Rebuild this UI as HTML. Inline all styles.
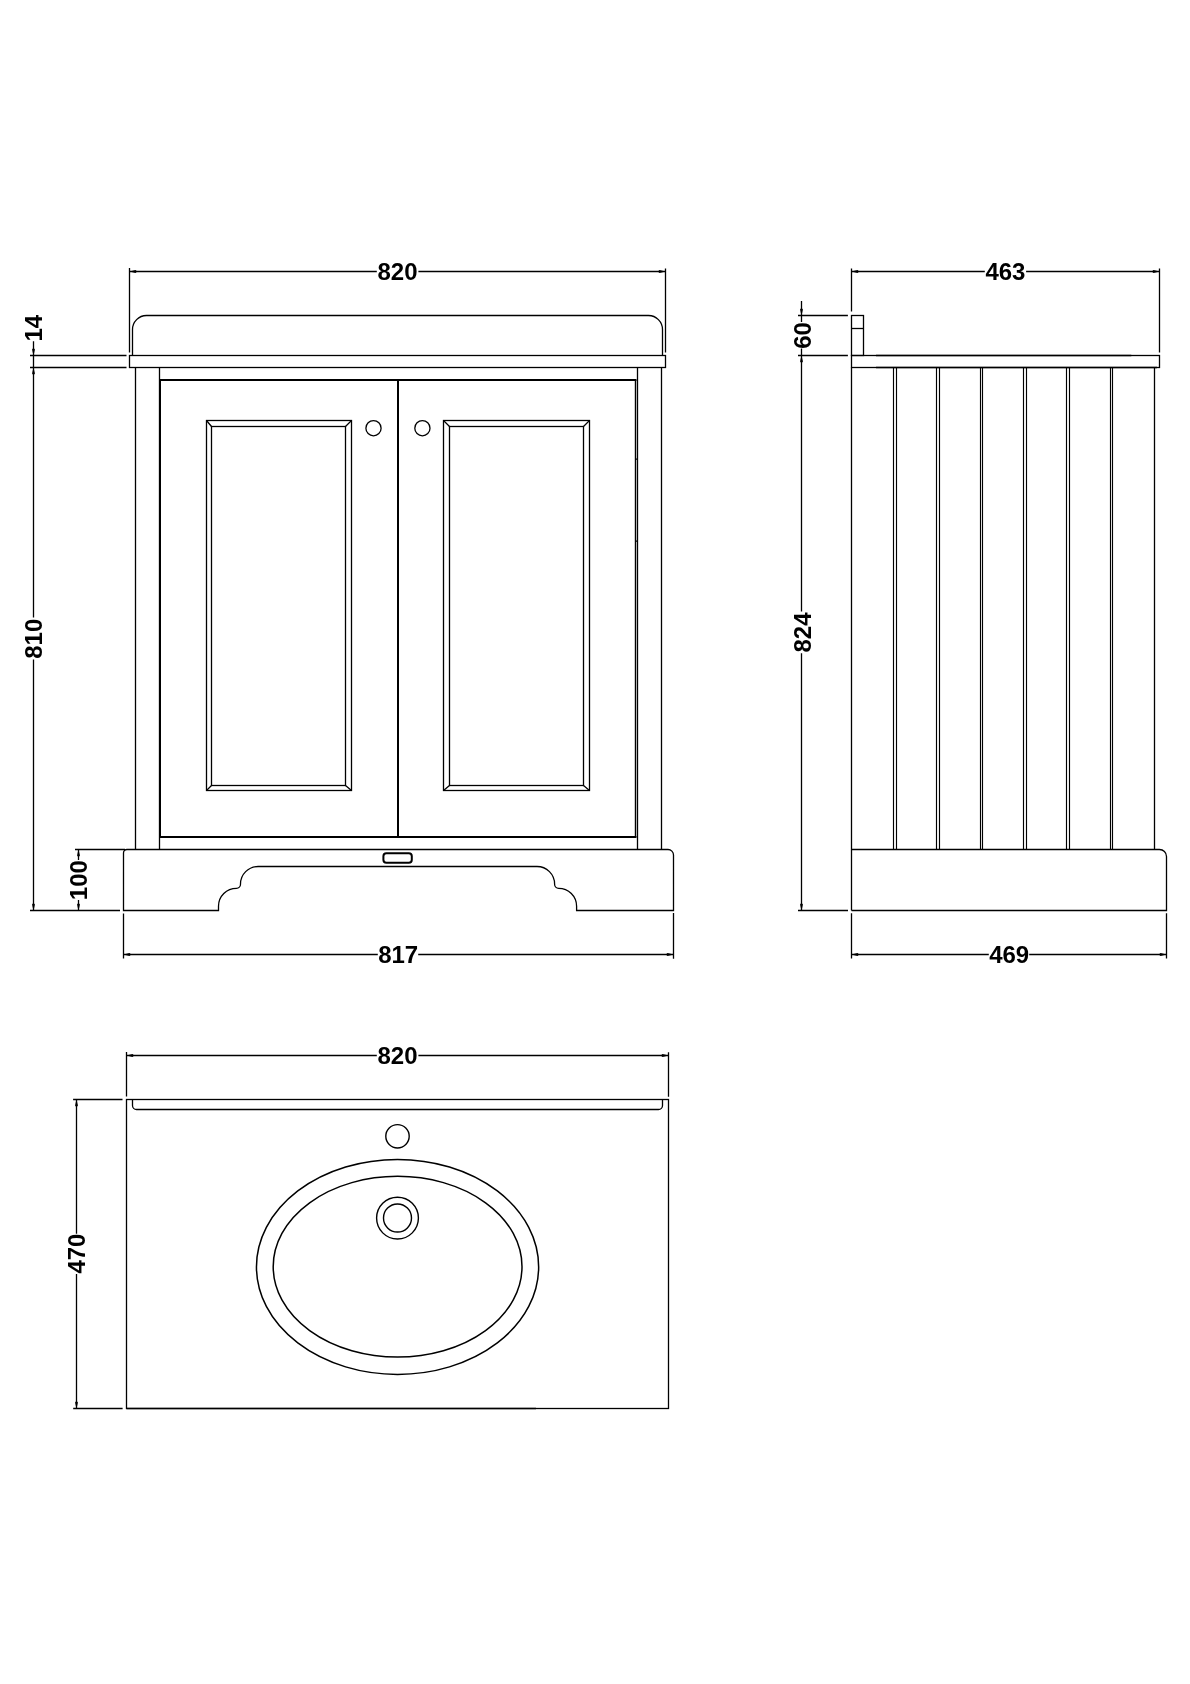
<!DOCTYPE html>
<html><head><meta charset="utf-8"><title>Vanity drawing</title>
<style>
html,body{margin:0;padding:0;background:#fff;}
svg{display:block;filter:grayscale(1);}
.t{font-family:"Liberation Sans",sans-serif;font-weight:bold;font-size:24px;fill:#000;}
</style></head>
<body>
<svg width="1190" height="1684" viewBox="0 0 1190 1684">
<rect width="1190" height="1684" fill="#fff"/>
<g fill="none" stroke="#000" stroke-width="1.3" stroke-linecap="butt" stroke-linejoin="miter">
<!-- ===== FRONT VIEW ===== -->
<!-- 820 top dimension -->
<path d="M129.5 268V352.5M665.5 268.5V352.5"/>
<path d="M129.5 271.5H376.8M418.4 271.5H665.5"/>
<!-- backsplash -->
<path d="M132.5 355.5V329.5A14 14 0 0 1 146.5 315.5H648.5A14 14 0 0 1 662.5 329.5V355.5"/>
<!-- countertop -->
<rect x="129.5" y="355.5" width="536" height="12"/>
<!-- 14 ext lines -->
<path d="M30 355.5H126.5M30 367.5H126.5"/>
<!-- 14 / 810 dim line -->
<path d="M33.5 341.3V617.6M33.5 659.4V910.5"/>
<!-- cabinet sides -->
<path d="M135.5 367.5V849.5M159.5 367.5V849.5M637.5 367.5V849.5M661.5 367.5V849.5"/>
<!-- door -->
<path d="M635.5 380V837" stroke-width="1.4"/>
<path d="M636.5 380H160V837H636.5" stroke-width="2"/>
<path d="M398 380V837" stroke-width="2"/>
<path d="M635.5 459.2H637.5M635.5 541.2H637.5" stroke-width="1.2"/>
<!-- left panel -->
<rect x="206.5" y="420.5" width="145" height="370"/>
<rect x="211.5" y="426.5" width="134" height="359"/>
<path d="M206.5 420.5L211.5 426.5M351.5 420.5L345.5 426.5M206.5 790.5L211.5 785.5M351.5 790.5L345.5 785.5"/>
<!-- right panel -->
<rect x="443.5" y="420.5" width="146" height="370"/>
<rect x="449.5" y="426.5" width="134" height="359"/>
<path d="M443.5 420.5L449.5 426.5M589.5 420.5L583.5 426.5M443.5 790.5L449.5 785.5M589.5 790.5L583.5 785.5"/>
<!-- knobs -->
<circle cx="373.5" cy="428.2" r="7.6"/>
<circle cx="422.4" cy="428.2" r="7.6"/>
<!-- plinth -->
<path d="M123.5 910.5V853A3.5 3.5 0 0 1 127 849.5H668A5.5 5.5 0 0 1 673.5 855V910.5H576.6V906.3A18 18 0 0 0 558.6 888.3A4 4 0 0 1 554.6 884.3V884.1A17.6 17.6 0 0 0 537 866.5H258.1A17.6 17.6 0 0 0 240.5 884.1V884.3A4 4 0 0 1 236.5 888.3A18 18 0 0 0 218.5 906.3V910.5Z"/>
<!-- handle -->
<rect x="383.4" y="853.2" width="28.4" height="9.5" rx="3" stroke-width="2"/>
<!-- 100 dim -->
<path d="M75 849.5H125M30 910.5H120"/>
<path d="M78.5 849.5V860M78.5 900V910.5"/>
<!-- 817 dim -->
<path d="M123.5 913.5V958.6M673.5 913.1V958.8"/>
<path d="M123.5 954.5H377.8M418.2 954.5H673.5"/>

<!-- ===== SIDE VIEW ===== -->
<path d="M851.5 268.5V311.4M1159.5 268.5V352.4"/>
<path d="M851.5 271.5H984.8M1026.1 271.5H1159.5"/>
<rect x="851.5" y="315.5" width="12" height="40"/>
<path d="M851.5 328.5H863.5"/>
<path d="M876 355.5H1131.3M876 367.5H1157" stroke-width="1.6"/>
<rect x="851.5" y="355.5" width="308" height="12"/>
<path d="M851.5 367.5V910.5M1154.5 367.5V849.5"/>
<path d="M893.5 367.5V849.5M896.5 367.5V849.5M936.5 367.5V849.5M939.5 367.5V849.5M980.5 367.5V849.5M982.5 367.5V849.5M1023.5 367.5V849.5M1026.5 367.5V849.5M1066.5 367.5V849.5M1069.5 367.5V849.5M1110.5 367.5V849.5M1112.5 367.5V849.5" stroke-width="1.15"/>
<path d="M851.5 849.5H1159.5A7 7 0 0 1 1166.5 856.5V910.5H851.5"/>
<!-- 60 / 824 dim -->
<path d="M798 315.5H847.9M798 355.5H847.9M798 910.5H848"/>
<path d="M801.5 300.9V322M801.5 348.5V611.5M801.5 653.2V910.5"/>
<!-- 469 dim -->
<path d="M851.5 913.2V958.6M1166.5 913.2V958.6"/>
<path d="M851.5 954.5H988.8M1029.2 954.5H1166.5"/>

<!-- ===== TOP VIEW ===== -->
<path d="M126.5 1052.1V1096.5M668.5 1052.2V1096.7"/>
<path d="M126.5 1055.5H376.8M418.4 1055.5H668.5"/>
<rect x="126.5" y="1099.5" width="542" height="309"/>
<path d="M126.5 1408.5H536" stroke-width="1.6"/>
<path d="M132.5 1099.5V1105.5A4 4 0 0 0 136.5 1109.5H658.5A4 4 0 0 0 662.5 1105.5V1099.5"/>
<path d="M73.1 1099.5H122.5M73.2 1408.5H122.6"/>
<path d="M76.5 1099.5V1233.7M76.5 1274V1408.5"/>
<circle cx="397.5" cy="1136.3" r="11.7" stroke-width="1.4"/>
<ellipse cx="397.55" cy="1266.9" rx="141.1" ry="107.5" stroke-width="1.5"/>
<ellipse cx="397.6" cy="1266.7" rx="124.4" ry="90.4" stroke-width="1.5"/>
<circle cx="397.5" cy="1218.1" r="20.9" stroke-width="1.4"/>
<circle cx="397.5" cy="1218" r="14" stroke-width="1.4"/>
</g>
<!-- arrows -->
<g fill="#000" stroke="none">
<path d="M129.5 271.5l6 -1.45l1.8 1.45l-1.8 1.45z"/>
<path d="M665.5 271.5l-6 -1.45l-1.8 1.45l1.8 1.45z"/>
<path d="M33.5 355.5l-1.45 -6l1.45 -1.8l1.45 1.8z"/>
<path d="M33.5 367.5l-1.45 6l1.45 1.8l1.45 -1.8z"/>
<path d="M33.5 910.5l-1.45 -6l1.45 -1.8l1.45 1.8z"/>
<path d="M78.5 849.5l-1.45 6l1.45 1.8l1.45 -1.8z"/>
<path d="M78.5 910.5l-1.45 -6l1.45 -1.8l1.45 1.8z"/>
<path d="M123.5 954.5l6 -1.45l1.8 1.45l-1.8 1.45z"/>
<path d="M673.5 954.5l-6 -1.45l-1.8 1.45l1.8 1.45z"/>
<path d="M851.5 271.5l6 -1.45l1.8 1.45l-1.8 1.45z"/>
<path d="M1159.5 271.5l-6 -1.45l-1.8 1.45l1.8 1.45z"/>
<path d="M801.5 315.5l-1.45 -6l1.45 -1.8l1.45 1.8z"/>
<path d="M801.5 355.5l-1.45 6l1.45 1.8l1.45 -1.8z"/>
<path d="M801.5 910.5l-1.45 -6l1.45 -1.8l1.45 1.8z"/>
<path d="M851.5 954.5l6 -1.45l1.8 1.45l-1.8 1.45z"/>
<path d="M1166.5 954.5l-6 -1.45l-1.8 1.45l1.8 1.45z"/>
<path d="M126.5 1055.5l6 -1.45l1.8 1.45l-1.8 1.45z"/>
<path d="M668.5 1055.5l-6 -1.45l-1.8 1.45l1.8 1.45z"/>
<path d="M76.5 1099.5l-1.45 6l1.45 1.8l1.45 -1.8z"/>
<path d="M76.5 1408.5l-1.45 -6l1.45 -1.8l1.45 1.8z"/>
</g>
<!-- text -->
<g class="t" text-anchor="middle">
<text x="397.5" y="280">820</text>
<text x="1005.4" y="280">463</text>
<text x="398.2" y="963">817</text>
<text x="1009.2" y="963">469</text>
<text x="397.5" y="1063.6">820</text>
<text transform="translate(42,328.2) rotate(-90)">14</text>
<text transform="translate(42,638.8) rotate(-90)">810</text>
<text transform="translate(87,880.2) rotate(-90)">100</text>
<text transform="translate(810.5,335.4) rotate(-90)">60</text>
<text transform="translate(810.5,632.5) rotate(-90)">824</text>
<text transform="translate(85.2,1253.6) rotate(-90)">470</text>
</g>
</svg>
</body></html>
